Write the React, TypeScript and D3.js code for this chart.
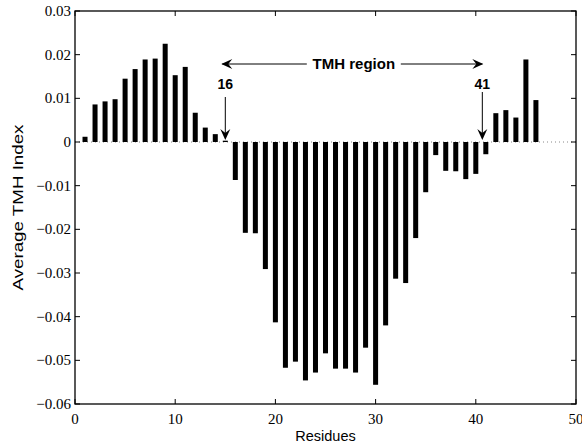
import React from "react";
import * as d3 from "d3";

const residues = [1,2,3,4,5,6,7,8,9,10,11,12,13,14,15,16,17,18,19,20,21,22,23,24,25,26,27,28,29,30,31,32,33,34,35,36,37,38,39,40,41,42,43,44,45,46];
const tmhIndex = [
  0.0012, 0.0086, 0.0093, 0.0098, 0.0145, 0.0167, 0.0189, 0.0191, 0.0225, 0.0153,
  0.0172, 0.0067, 0.0033, 0.0018, 0.0003, -0.0087, -0.0208, -0.0209, -0.0291, -0.0413,
  -0.0517, -0.0503, -0.0546, -0.0528, -0.0484, -0.0519, -0.0519, -0.0528, -0.0471, -0.0556,
  -0.0420, -0.0313, -0.0323, -0.0220, -0.0115, -0.0030, -0.0066, -0.0067, -0.0085, -0.0073,
  -0.0028, 0.0066, 0.0073, 0.0056, 0.0189, 0.0096,
];
const xTicks = [0, 10, 20, 30, 40, 50];
const yTicks = [0.03, 0.02, 0.01, 0, -0.01, -0.02, -0.03, -0.04, -0.05, -0.06];
const regionStart = 15;
const regionEnd = 40.65;
const regionLabels = ["16", "41"];
const regionTitle = "TMH region";

const W = 582, H = 446;
const L = 75, R = 576, T = 11, B = 404;

function fmt(v: number) {
  if (v === 0) return "0";
  const s = Math.abs(v).toFixed(2);
  return (v < 0 ? "\u2212" : "") + s;
}

function ArrowHead({ x, y, dir }: { x: number; y: number; dir: "down" | "left" | "right" }) {
  // concave arrowhead pointing toward (x,y)
  const len = 11, half = 5, notch = 7;
  let d = "";
  if (dir === "down") d = `M${x},${y} L${x - half},${y - len} L${x},${y - notch} L${x + half},${y - len} Z`;
  if (dir === "left") d = `M${x},${y} L${x + len},${y - half} L${x + notch},${y} L${x + len},${y + half} Z`;
  if (dir === "right") d = `M${x},${y} L${x - len},${y - half} L${x - notch},${y} L${x - len},${y + half} Z`;
  return <path d={d} fill="#000" />;
}

export default function App() {
  const x = d3.scaleLinear().domain([0, 50]).range([L, R]);
  const y = d3.scaleLinear().domain([-0.06, 0.03]).range([B, T]);
  const bw = x(0.5) - x(0);
  const serif = "'Liberation Serif', 'Times New Roman', serif";
  const sans = "'Liberation Sans', Arial, Helvetica, sans-serif";
  const arrowY = 64;
  const tickLen = 5;

  return (
    <svg width={W} height={H} style={{ position: "absolute", left: 0, top: 0, background: "#fff" }}>
      <rect x={0} y={0} width={W} height={H} fill="#fff" />
      {/* zero dotted line */}
      <line x1={L} x2={R} y1={y(0)} y2={y(0)} stroke="#888" strokeWidth={1} strokeDasharray="1,3" />
      {/* bars */}
      {residues.map((r, i) => {
        const v = tmhIndex[i];
        const y0 = y(0), y1 = y(v);
        return (
          <rect key={r} x={x(r) - bw / 2} width={bw} y={Math.min(y0, y1)} height={Math.max(Math.abs(y1 - y0), 1)} fill="#000" />
        );
      })}
      {/* box */}
      <rect x={L} y={T} width={R - L} height={B - T} fill="none" stroke="#000" strokeWidth={1.3} />
      {/* x ticks */}
      {xTicks.map((t) => (
        <g key={"x" + t}>
          <line x1={x(t)} x2={x(t)} y1={B} y2={B - tickLen} stroke="#000" />
          <line x1={x(t)} x2={x(t)} y1={T} y2={T + tickLen} stroke="#000" />
          <text x={x(t)} y={B + 20} textAnchor="middle" fontFamily={serif} fontSize={15}>{t}</text>
        </g>
      ))}
      {yTicks.map((t) => (
        <g key={"y" + t}>
          <line x1={L} x2={L + tickLen} y1={y(t)} y2={y(t)} stroke="#000" />
          <line x1={R} x2={R - tickLen} y1={y(t)} y2={y(t)} stroke="#000" />
          <text x={L - 4} y={y(t) + 5} textAnchor="end" fontFamily={serif} fontSize={15}>{fmt(t)}</text>
        </g>
      ))}
      <text x={(L + R) / 2} y={441} textAnchor="middle" fontFamily={sans} fontSize={14.5}>Residues</text>
      <text transform={`translate(23, ${(T + B) / 2}) rotate(-90)`} textAnchor="middle" fontFamily={sans} fontSize={14.5}
        textLength={166} lengthAdjust="spacingAndGlyphs">Average TMH Index</text>

      {/* TMH region arrow */}
      <line x1={x(regionStart) - 3} x2={x(regionEnd)} y1={arrowY} y2={arrowY} stroke="#000" strokeWidth={1} />
      <ArrowHead x={x(regionStart) - 4} y={arrowY} dir="left" />
      <ArrowHead x={x(regionEnd) + 1} y={arrowY} dir="right" />
      <rect x={(x(regionStart) + x(regionEnd)) / 2 - 47} y={arrowY - 9} width={94} height={18} fill="#fff" />
      <text x={(x(regionStart) + x(regionEnd)) / 2} y={arrowY + 5} textAnchor="middle" fontFamily={sans} fontWeight="bold" fontSize={15}>{regionTitle}</text>

      {/* 16 arrow */}
      <text x={x(regionStart)} y={89} textAnchor="middle" fontFamily={sans} fontWeight="bold" fontSize={14}>{regionLabels[0]}</text>
      <line x1={x(regionStart)} x2={x(regionStart)} y1={97} y2={136} stroke="#000" />
      <ArrowHead x={x(regionStart)} y={140} dir="down" />
      {/* 41 arrow */}
      <text x={x(regionEnd)} y={89} textAnchor="middle" fontFamily={sans} fontWeight="bold" fontSize={14}>{regionLabels[1]}</text>
      <line x1={x(regionEnd)} x2={x(regionEnd)} y1={92} y2={136} stroke="#000" />
      <ArrowHead x={x(regionEnd)} y={140} dir="down" />
    </svg>
  );
}
